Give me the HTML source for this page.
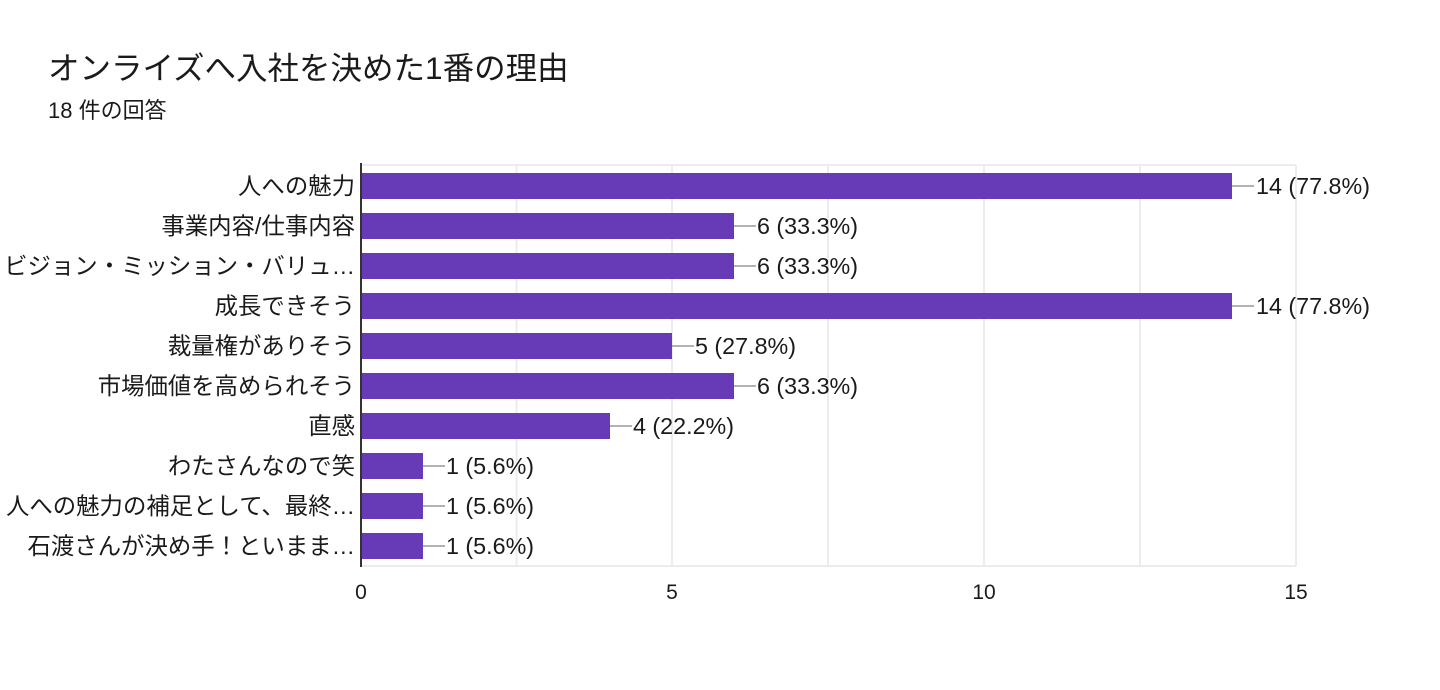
<!DOCTYPE html>
<html><head><meta charset="utf-8"><style>
body{margin:0;background:#fff;width:1440px;height:685px;overflow:hidden}
svg text{font-family:"Liberation Sans","Noto Sans CJK JP",sans-serif;fill:#1a1a1a}
</style></head><body>
<svg width="1440" height="685" xmlns="http://www.w3.org/2000/svg">
<text x="48" y="79" font-size="31.5" fill="#202124">オンライズへ入社を決めた1番の理由</text>
<text x="48" y="118" font-size="22" fill="#202124">18 件の回答</text>
<g stroke="#ececec" stroke-width="2">
<line x1="361" y1="165" x2="1296" y2="165"/>
<line x1="361" y1="566" x2="1296" y2="566"/>
<line x1="516.5" y1="165" x2="516.5" y2="566"/>
<line x1="672" y1="165" x2="672" y2="566"/>
<line x1="828" y1="165" x2="828" y2="566"/>
<line x1="984" y1="165" x2="984" y2="566"/>
<line x1="1140" y1="165" x2="1140" y2="566"/>
<line x1="1296" y1="165" x2="1296" y2="566"/>
</g>
<g fill="#673ab7">
<rect x="361" y="173" width="871" height="26"/>
<rect x="361" y="213" width="373" height="26"/>
<rect x="361" y="253" width="373" height="26"/>
<rect x="361" y="293" width="871" height="26"/>
<rect x="361" y="333" width="311" height="26"/>
<rect x="361" y="373" width="373" height="26"/>
<rect x="361" y="413" width="249" height="26"/>
<rect x="361" y="453" width="62" height="26"/>
<rect x="361" y="493" width="62" height="26"/>
<rect x="361" y="533" width="62" height="26"/>
</g>
<line x1="361" y1="163" x2="361" y2="567" stroke="#333" stroke-width="2"/>
<g stroke="#999" stroke-width="1.5">
<line x1="1232" y1="186" x2="1254" y2="186"/>
<line x1="734" y1="226" x2="756" y2="226"/>
<line x1="734" y1="266" x2="756" y2="266"/>
<line x1="1232" y1="306" x2="1254" y2="306"/>
<line x1="672" y1="346" x2="694" y2="346"/>
<line x1="734" y1="386" x2="756" y2="386"/>
<line x1="610" y1="426" x2="632" y2="426"/>
<line x1="423" y1="466" x2="445" y2="466"/>
<line x1="423" y1="506" x2="445" y2="506"/>
<line x1="423" y1="546" x2="445" y2="546"/>
</g>
<g font-size="23.3">
<text x="1256" y="194">14 (77.8%)</text>
<text x="757" y="234">6 (33.3%)</text>
<text x="757" y="274">6 (33.3%)</text>
<text x="1256" y="314">14 (77.8%)</text>
<text x="695" y="354">5 (27.8%)</text>
<text x="757" y="394">6 (33.3%)</text>
<text x="633" y="434">4 (22.2%)</text>
<text x="446" y="474">1 (5.6%)</text>
<text x="446" y="514">1 (5.6%)</text>
<text x="446" y="554">1 (5.6%)</text>
</g>
<g font-size="23.4" text-anchor="end">
<text x="355" y="194">人への魅力</text>
<text x="355" y="234">事業内容/仕事内容</text>
<text x="355" y="274">ビジョン・ミッション・バリュ…</text>
<text x="355" y="314">成長できそう</text>
<text x="355" y="354">裁量権がありそう</text>
<text x="355" y="394">市場価値を高められそう</text>
<text x="355" y="434">直感</text>
<text x="355" y="474">わたさんなので笑</text>
<text x="355" y="514">人への魅力の補足として、最終…</text>
<text x="355" y="554">石渡さんが決め手！といまま…</text>
</g>
<g font-size="21" text-anchor="middle" fill="#444">
<text x="361" y="599">0</text>
<text x="672" y="599">5</text>
<text x="984" y="599">10</text>
<text x="1296" y="599">15</text>
</g>
</svg>
</body></html>
